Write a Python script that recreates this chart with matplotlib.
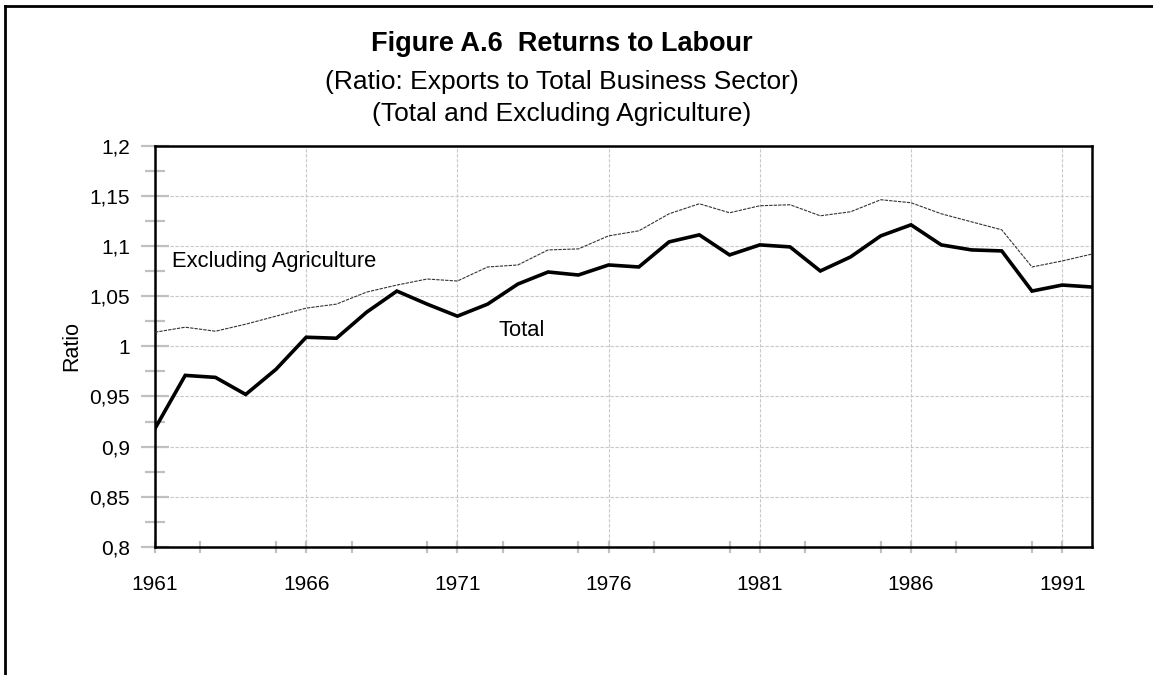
import matplotlib
matplotlib.use("Agg")
import matplotlib.pyplot as plt
from matplotlib.lines import Line2D
from matplotlib.ticker import MultipleLocator, FixedLocator, FuncFormatter

plt.rcParams['font.family'] = ['Liberation Sans', 'DejaVu Sans']

# data
years = list(range(1961, 1993))
total = [0.918, 0.971, 0.969, 0.952, 0.977, 1.009, 1.008, 1.034, 1.055, 1.042,
         1.030, 1.042, 1.062, 1.074, 1.071, 1.081, 1.079, 1.104, 1.111, 1.091,
         1.101, 1.099, 1.075, 1.089, 1.110, 1.121, 1.101, 1.096, 1.095, 1.055,
         1.061, 1.059]
excl_agri = [1.014, 1.019, 1.015, 1.022, 1.030, 1.038, 1.042, 1.054, 1.061, 1.067,
             1.065, 1.079, 1.081, 1.096, 1.097, 1.110, 1.115, 1.132, 1.142, 1.133,
             1.140, 1.141, 1.130, 1.134, 1.146, 1.143, 1.132, 1.124, 1.116, 1.079,
             1.085, 1.092]
year_labels = [1961, 1966, 1971, 1976, 1981, 1986, 1991]

fig = plt.figure(figsize=(11.53, 6.75), dpi=100)
ax = fig.add_axes([0.1344, 0.1896, 0.8131, 0.5948])

ax.plot(years, excl_agri, color='#333333', lw=0.8, ls=(0, (3, 1)), zorder=3)
ax.plot(years, total, color='black', lw=2.6, solid_joinstyle='miter', zorder=4)

ax.set_xlim(1961, 1992)
ax.set_ylim(0.8, 1.2)

ax.yaxis.set_major_locator(MultipleLocator(0.05))
ax.yaxis.set_minor_locator(MultipleLocator(0.025))
ax.yaxis.set_major_formatter(FuncFormatter(lambda v, p: ('%g' % round(v, 3)).replace('.', ',')))
ax.xaxis.set_major_locator(FixedLocator(year_labels))
ax.xaxis.set_minor_locator(MultipleLocator(2.5))

ax.grid(True, which='major', color='#c8c8c8', ls=(0, (3, 1.5)), lw=0.8)
ax.set_axisbelow(True)

ax.tick_params(axis='y', which='major', direction='inout', length=20, width=1.6,
               color='#c0c0c0', labelsize=15, pad=8)
ax.tick_params(axis='y', which='minor', direction='inout', length=14, width=1.6,
               color='#c0c0c0')
ax.tick_params(axis='x', which='both', direction='inout', length=8, width=1.6,
               color='#c0c0c0', labelsize=15, pad=16)

for s in ax.spines.values():
    s.set_linewidth(1.8)
    s.set_color('black')

ax.set_ylabel('Ratio', fontsize=15.5, labelpad=5)

ax.text(1961.55, 1.084, 'Excluding Agriculture', fontsize=15.8, va='center', ha='left')
ax.text(1972.35, 1.016, 'Total', fontsize=15.8, va='center', ha='left')

fig.text(0.487, 0.925, 'Figure A.6  Returns to Labour', fontsize=19.5,
         fontweight='bold', ha='center', va='baseline')
fig.text(0.487, 0.868, '(Ratio: Exports to Total Business Sector)', fontsize=19,
         ha='center', va='baseline')
fig.text(0.487, 0.821, '(Total and Excluding Agriculture)', fontsize=19,
         ha='center', va='baseline')

# outer frame, only left and top edges visible
fig.add_artist(Line2D([5 / 1153, 5 / 1153], [0, 1 - 6 / 675], color='black', lw=2,
                      transform=fig.transFigure))
fig.add_artist(Line2D([5 / 1153, 1], [1 - 6 / 675, 1 - 6 / 675], color='black', lw=2,
                      transform=fig.transFigure))

fig.savefig('out.png', dpi=100)
